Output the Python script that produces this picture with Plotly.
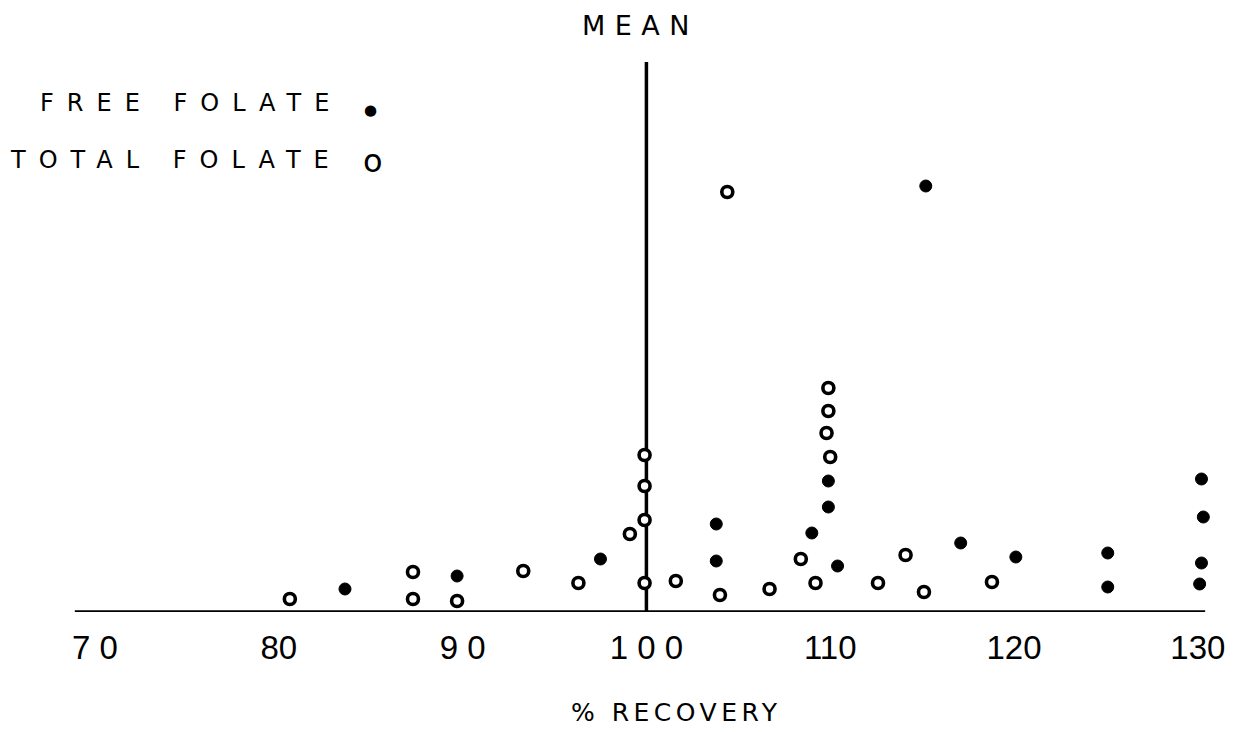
import plotly.graph_objects as go

# % recovery values and stacking heights (arbitrary units)
total_x = [80.6, 87.3, 87.3, 89.7, 93.3, 96.3, 99.1, 99.9, 99.9, 99.9, 99.9, 101.6, 104.0,
           104.4, 106.7, 108.4, 109.2, 109.9, 109.9, 109.8, 110.0, 112.6, 114.1, 115.1, 118.8]
total_h = [1.3, 4.0, 1.3, 1.1, 4.1, 2.9, 7.8, 9.2, 12.6, 15.7, 2.9, 3.1, 1.7,
           42.0, 2.3, 5.3, 2.9, 22.4, 20.1, 17.9, 15.5, 2.9, 5.7, 2.0, 3.0]

free_x = [83.6, 89.7, 97.5, 103.8, 103.8, 109.0, 109.9, 109.9, 110.4, 115.2, 117.1, 120.1,
          125.1, 125.1, 130.2, 130.3, 130.2, 130.1]
free_h = [2.3, 3.6, 5.3, 8.8, 5.1, 7.9, 13.1, 10.5, 4.6, 42.6, 6.9, 5.5,
          5.9, 2.5, 13.3, 9.5, 4.9, 2.8]

mean_value = 100.0
mean_top = 55.0
axis_x = [68.9, 130.4]
axis_y = [0, 0]

tick_vals = [70, 80, 90, 100, 110, 120, 130]
tick_text = ["7 0", "80", "9 0", "1 0 0", "110", "120", "130"]

fig = go.Figure()

fig.add_trace(go.Scatter(x=axis_x, y=axis_y, mode="lines",
                         line=dict(color="black", width=3.5), showlegend=False,
                         hoverinfo="skip"))
fig.add_trace(go.Scatter(x=[mean_value, mean_value], y=[0, mean_top], mode="lines",
                         line=dict(color="black", width=3.5), showlegend=False,
                         hoverinfo="skip"))
fig.add_trace(go.Scatter(x=total_x, y=total_h, mode="markers", name="TOTAL FOLATE",
                         marker=dict(symbol="circle", size=11, color="white",
                                     line=dict(color="black", width=3.6)),
                         showlegend=False))
fig.add_trace(go.Scatter(x=free_x, y=free_h, mode="markers", name="FREE FOLATE",
                         marker=dict(symbol="circle", size=12, color="black",
                                     line=dict(color="black", width=1)),
                         showlegend=False))

txt_font = dict(family="DejaVu Sans, Verdana, sans-serif", color="black")

def spaced(s, ls):
    return f'<span style="letter-spacing:{ls}px">{s}</span>'

annotations = [
    dict(x=99.7, y=58.7, xref="x", yref="y", text=spaced("MEAN", 9.5),
         showarrow=False, font=dict(size=27, **txt_font), xanchor="center", yanchor="middle"),
    dict(x=83.57, y=50.9, xref="x", yref="y", text=spaced("FREE FOLATE", 13),
         showarrow=False, font=dict(size=24, **txt_font), xanchor="right", yanchor="middle"),
    dict(x=85.0, y=50.2, xref="x", yref="y", text="●",
         showarrow=False, font=dict(size=15, **txt_font), xanchor="center", yanchor="middle"),
    dict(x=83.57, y=45.2, xref="x", yref="y", text=spaced("TOTAL FOLATE", 13),
         showarrow=False, font=dict(size=24, **txt_font), xanchor="right", yanchor="middle"),
    dict(x=85.1, y=45.1, xref="x", yref="y", text="o",
         showarrow=False, font=dict(size=32, **txt_font), xanchor="center", yanchor="middle"),
    dict(x=0.545, y=-0.165, xref="paper", yref="paper", text=spaced("% RECOVERY", 4.5),
         showarrow=False, font=dict(size=25, **txt_font), xanchor="center", yanchor="middle"),
]

fig.update_layout(
    width=1241, height=732,
    margin=dict(l=0, r=0, t=0, b=120),
    paper_bgcolor="white", plot_bgcolor="white",
    showlegend=False,
    annotations=annotations,
    xaxis=dict(range=[64.83, 132.35], showgrid=False, zeroline=False, showline=False,
               ticks="", tickvals=tick_vals, ticktext=tick_text,
               tickfont=dict(family="Liberation Sans Narrow, Liberation Sans, Arial, sans-serif",
                             size=33, color="black"),
               ticklabelstandoff=13),
    yaxis=dict(range=[0, 61.2], visible=False, showgrid=False, zeroline=False),
)

fig.write_html("out.html")
